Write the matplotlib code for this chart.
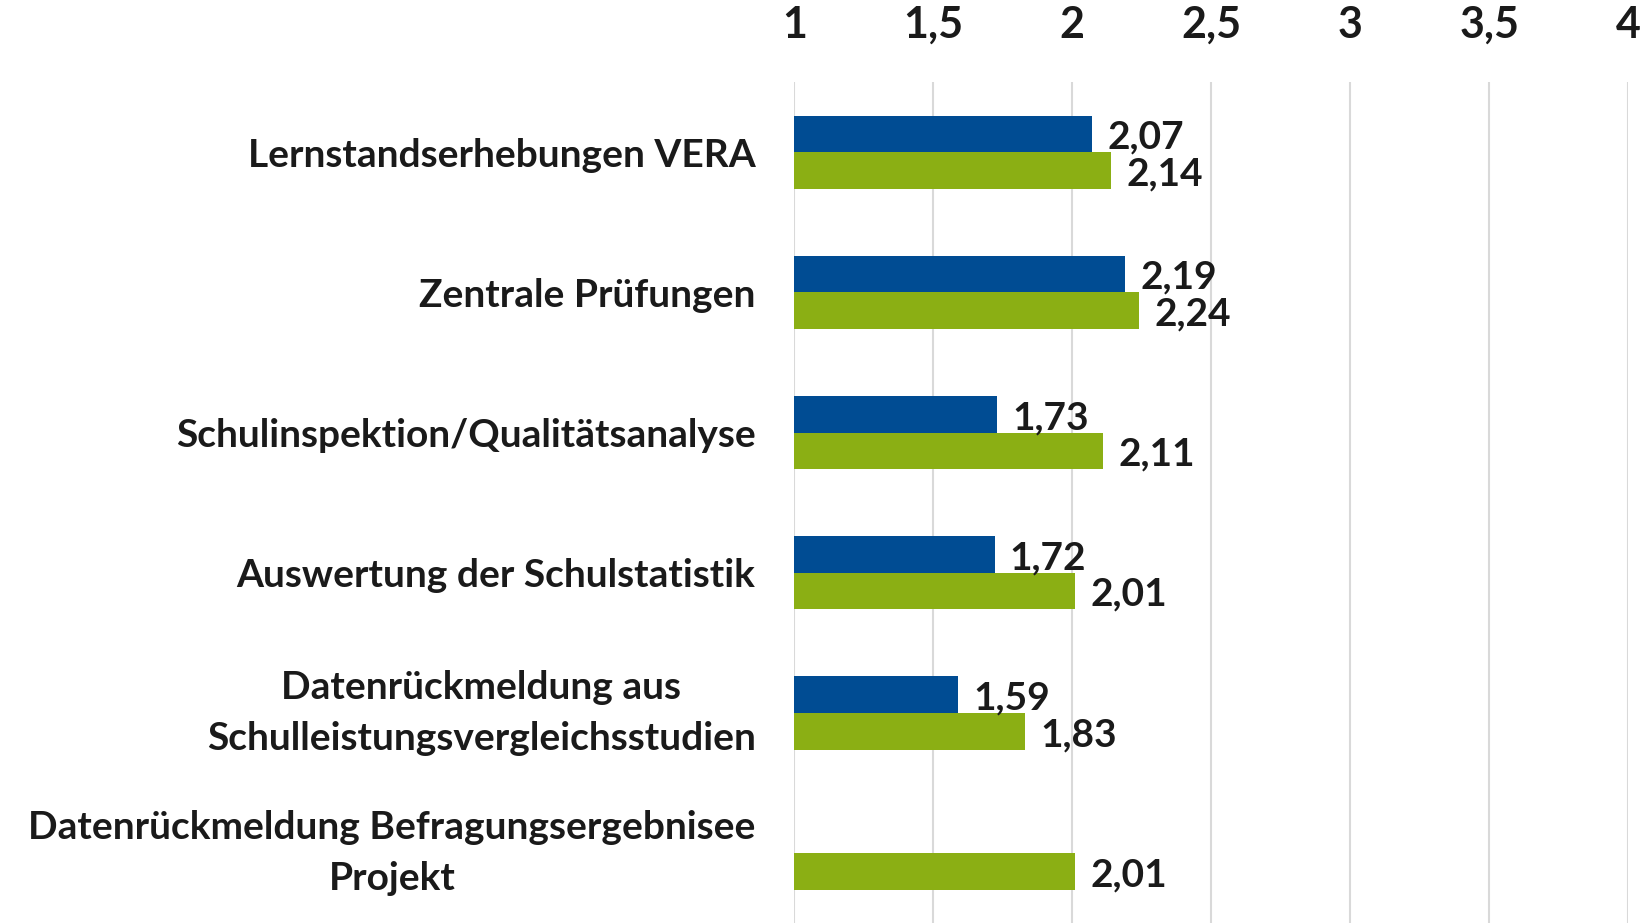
import numpy as np
import matplotlib
matplotlib.use('Agg')
import matplotlib.pyplot as plt

categories = [
    'Lernstandserhebungen VERA',
    'Zentrale Prüfungen',
    'Schulinspektion/Qualitätsanalyse',
    'Auswertung der Schulstatistik',
    'Datenrückmeldung aus\nSchulleistungsvergleichsstudien',
    'Datenrückmeldung Befragungsergebnisee\nProjekt',
]
blue_values = [2.07, 2.19, 1.73, 1.72, 1.59, np.nan]
green_values = [2.14, 2.24, 2.11, 2.01, 1.83, 2.01]
x_ticks = [1, 1.5, 2, 2.5, 3, 3.5, 4]

BLUE = '#004C93'
GREEN = '#8BAF14'
TEXT = '#1a1a1a'

plt.rcParams['font.family'] = ['Lato', 'DejaVu Sans']
plt.rcParams['font.weight'] = 'bold'

fig = plt.figure(figsize=(16.5, 9.23), dpi=100)
ax = fig.add_axes([0.4815, 0.0, 0.5052, 0.911])

y = np.arange(len(categories))
h = 0.262
ax.barh(y - h / 2, blue_values, height=h, color=BLUE, zorder=3)
ax.barh(y + h / 2, green_values, height=h, color=GREEN, zorder=3)

def fmt(v):
    return f"{v:.2f}".replace('.', ',')

# value labels right of each bar
for yi, bv, gv in zip(y, blue_values, green_values):
    if not np.isnan(bv):
        ax.annotate(fmt(bv), (bv, yi - h / 2), xytext=(11, -2.5), textcoords='offset points',
                    va='center', ha='left', fontsize=28, fontweight='bold', color=TEXT)
    ax.annotate(fmt(gv), (gv, yi + h / 2), xytext=(11, -2.5), textcoords='offset points',
                va='center', ha='left', fontsize=28, fontweight='bold', color=TEXT)

ax.set_xlim(1, 4)
ax.set_ylim(5.5, -0.5)
ax.set_xticks(x_ticks)
ax.set_xticklabels([str(t).replace('.', ',') if t % 1 else str(int(t)) for t in x_ticks],
                   fontsize=31, fontweight='bold', color=TEXT)
ax.xaxis.tick_top()
ax.tick_params(axis='x', length=0, pad=27)
ax.set_yticks(y)
ax.set_yticklabels(categories, fontsize=28, fontweight='bold', color=TEXT,
                   multialignment='center', linespacing=1.55)
for lbl in ax.get_yticklabels():
    if '\n' in lbl.get_text():
        lbl.set_verticalalignment('center')
ax.tick_params(axis='y', length=0, pad=28)
ax.grid(axis='x', color='#D9D9D9', linewidth=1.5, zorder=0)
for s in ax.spines.values():
    s.set_visible(False)

fig.savefig('out.png', dpi=100)
